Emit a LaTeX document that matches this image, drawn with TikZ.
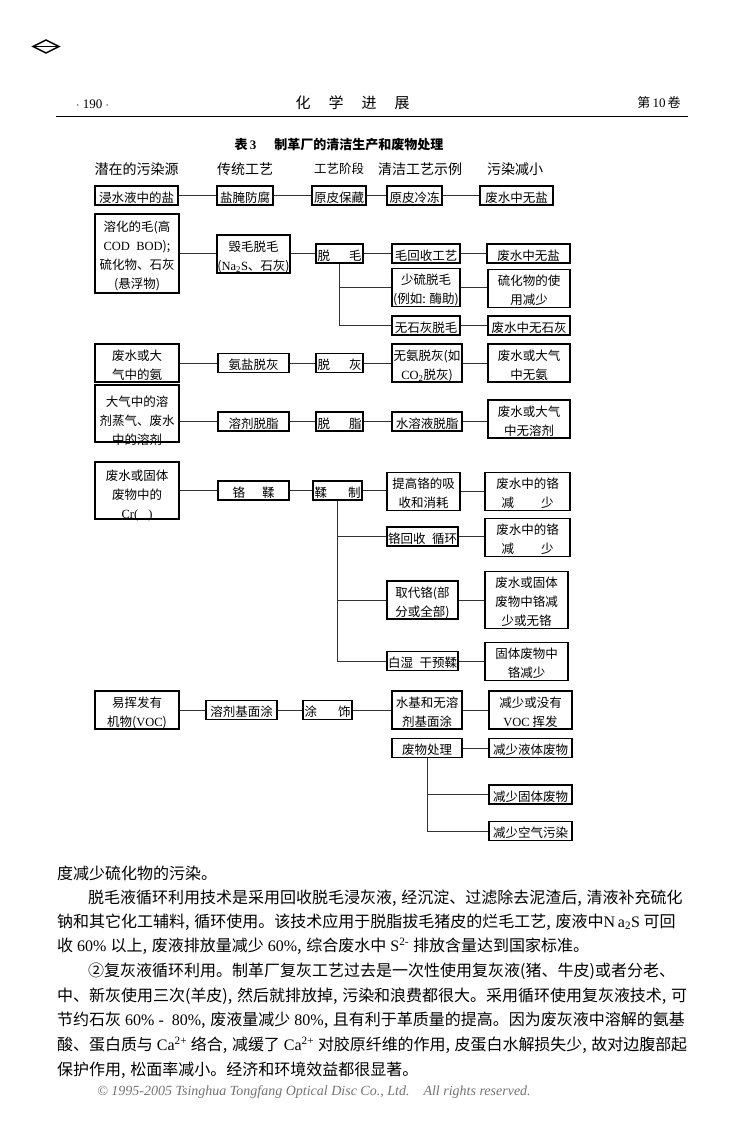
\documentclass[tikz,border=0pt]{standalone}
\usepackage{fontspec}
\setmainfont{Noto Sans CJK SC}
\newfontfamily\lat{Liberation Serif}
\XeTeXlinebreaklocale "zh"
\XeTeXlinebreakskip=0pt plus 3pt minus 1pt
\newcommand\bt[2][3]{\raisebox{-#1pt}[\height][\depth]{\begin{tabular}{@{}c@{}}#2\end{tabular}}}
\newcommand\spread[2]{\makebox[#1pt][s]{#2}}
\newcommand\cm{,\nobreak\hspace{0.3em plus 0.1em minus 0.1em}}
\newcommand\bodyfont{\fontsize{16}{20}\selectfont}
\newcommand\jset{\XeTeXlinebreakpenalty=10000 \tolerance=9999 \parfillskip=0pt \noindent}
\tikzset{
  bx/.style={draw, line width=1.7pt, inner sep=0pt, font=\fontsize{12.5}{19}\selectfont},
  ln/.style={line width=0.8pt, draw=black!80},
  hd/.style={inner sep=0pt, font=\fontsize{14}{16}\selectfont},
  jl/.style={anchor=west, inner sep=0pt, text width=630pt, align=justify, font=\bodyfont},
  nl/.style={anchor=west, inner sep=0pt, font=\bodyfont},
}
\begin{document}
\begin{tikzpicture}[x=1pt,y=-1pt]
\fill[white] (0,0) rectangle (741,1122);
\useasboundingbox (0,0) rectangle (741,1122);

% page header
\draw[line width=1.5pt] (33,46.5) -- (46,40) -- (59,46.5) -- (46,53) -- cycle;
\draw[line width=0.5pt] (35,46.5) -- (57,46.5);
\node[inner sep=0pt, font=\lat\fontsize{13}{15}\selectfont] (pg) at (92.5,104) {$\cdot$ 190 $\cdot$};
\node[inner sep=0pt, font=\fontsize{15}{17}\selectfont] (jr) at (352.5,103) {\spread{114}{化\hfill 学\hfill 进\hfill 展}};
\node[inner sep=0pt, font=\fontsize{13}{15}\selectfont] (vol) at (659,103) {第{\lat\,10\,}卷};
\draw[line width=1pt] (56,116) -- (688,116);

% title and column heads
\node[inner sep=0pt, font=\fontsize{13}{15}\selectfont\bfseries] (title) at (339,145) {表{\lat\bfseries\,3}\hspace{18pt}制革厂的清洁生产和废物处理};
\node[hd] (h1) at (136.5,169) {潜在的污染源};
\node[hd] (h2) at (245,169) {传统工艺};
\node[hd, font=\fontsize{12.5}{15}\selectfont] (h3) at (339,169) {工艺阶段};
\node[hd] (h4) at (420,169) {清洁工艺示例};
\node[hd] (h5) at (515,169) {污染减小};

% row 1
\node[bx, minimum width=83, minimum height=17] (a1) at (136.5,195.5) {\bt{浸水液中的盐}};
\node[bx, minimum width=56, minimum height=17] (b1) at (245,195.5) {\bt{盐腌防腐}};
\node[bx, minimum width=54, minimum height=17] (c1) at (339,195.5) {\bt{原皮保藏}};
\node[bx, minimum width=55, minimum height=17] (d1) at (414.5,195.5) {\bt{原皮冷冻}};
\node[bx, minimum width=73, minimum height=17] (e1) at (516.5,195.5) {\bt{废水中无盐}};
\draw[ln] (a1.east) -- (b1.west);
\draw[ln] (b1.east) -- (c1.west);
\draw[ln] (c1.east) -- (d1.west);
\draw[ln] (d1.east) -- (e1.west);

% row 2 : unhairing
\node[bx, minimum width=84, minimum height=79] (a2) at (137,253.5) {\bt{溶化的毛(高\\{\lat COD\ \ BOD});\\硫化物、石灰\\(悬浮物)}};
\node[bx, minimum width=71, minimum height=38] (b2) at (253.5,254) {\bt{毁毛脱毛\\({\lat Na\textsubscript{2}S}、石灰)}};
\node[bx, minimum width=47, minimum height=15] (c2) at (339.5,253.5) {\bt{\spread{44}{脱\hfill 毛}}};
\node[bx, minimum width=68, minimum height=15] (d2) at (426,253.5) {\bt{毛回收工艺}};
\node[bx, minimum width=83, minimum height=15] (e2) at (528.5,253.5) {\bt{废水中无盐}};
\node[bx, minimum width=68, minimum height=35] (d3) at (426,287.5) {\bt{少硫脱毛\\(例如: 酶助)}};
\node[bx, minimum width=82, minimum height=37] (e3) at (529,288.5) {\bt{硫化物的使\\用减少}};
\node[bx, minimum width=68, minimum height=15] (d4) at (426,325.5) {\bt{无石灰脱毛}};
\node[bx, minimum width=82, minimum height=15] (e4) at (529,325.5) {\bt{废水中无石灰}};
\draw[ln] (a2.east) -- (a2.east -| b2.west);
\draw[ln] (b2.east |- c2) -- (c2.west);
\draw[ln] (c2.east) -- (d2.west);
\draw[ln] (d2.east) -- (e2.west);
\draw[ln] (c2.south) |- (d3.west);
\draw[ln] (c2.south) |- (d4.west);
\draw[ln] (d3.east) -- (d3.east -| e3.west);
\draw[ln] (d4.east) -- (e4.west);

% row 3 : deliming
\node[bx, minimum width=84, minimum height=38] (a5) at (137,363) {\bt{废水或大\\气中的氨}};
\node[bx, minimum width=71, minimum height=15] (b5) at (253.5,363) {\bt{氨盐脱灰}};
\node[bx, minimum width=47, minimum height=15] (c5) at (339.5,363) {\bt{\spread{44}{脱\hfill 灰}}};
\node[bx, minimum width=70, minimum height=38] (d5) at (427,363) {\bt{无氨脱灰(如\\{\lat CO\textsubscript{2}}脱灰)}};
\node[bx, minimum width=82, minimum height=38] (e5) at (529,363) {\bt{废水或大气\\中无氨}};
\draw[ln] (a5.east) -- (b5.west);
\draw[ln] (b5.east) -- (c5.west);
\draw[ln] (c5.east) -- (d5.west);
\draw[ln] (d5.east) -- (e5.west);

% row 4 : degreasing
\node[bx, minimum width=84, minimum height=39] (a6) at (137,413.5) {\bt[8]{大气中的溶\\剂蒸气、废水\\中的溶剂}};
\node[bx, minimum width=71, minimum height=15] (b6) at (253.5,421.5) {\bt{溶剂脱脂}};
\node[bx, minimum width=47, minimum height=15] (c6) at (339.5,421.5) {\bt{\spread{44}{脱\hfill 脂}}};
\node[bx, minimum width=70, minimum height=15] (d6) at (427,421.5) {\bt{水溶液脱脂}};
\node[bx, minimum width=82, minimum height=32] (e6) at (529,419) {\bt{废水或大气\\中无溶剂}};
\draw[ln] (a6.east |- b6) -- (b6.west);
\draw[ln] (b6.east) -- (c6.west);
\draw[ln] (c6.east) -- (d6.west);
\draw[ln] (d6.east) -- (d6.east -| e6.west);

% row 5 : tanning
\node[bx, minimum width=84, minimum height=57] (a7) at (137,490.5) {\bt[5]{废水或固体\\废物中的\\{\lat Cr(\hspace{10pt})}}};
\node[bx, minimum width=71, minimum height=15] (b7) at (253.5,490.5) {\bt{\spread{42}{铬\hfill 鞣}}};
\node[bx, minimum width=49, minimum height=15] (c7) at (337.5,490.5) {\bt{\spread{46}{鞣\hfill 制}}};
\node[bx, minimum width=73, minimum height=37] (d7) at (423.5,491.5) {\bt{提高铬的吸\\收和消耗}};
\node[bx, minimum width=85, minimum height=37] (e7) at (527.5,491.5) {\bt{废水中的铬\\\spread{52}{减\hfill 少}}};
\node[bx, minimum width=71, minimum height=14] (d8) at (422.5,536.5) {\bt{\spread{69}{铬回收\hfill 循环}}};
\node[bx, minimum width=85, minimum height=35] (e8) at (527.5,537.5) {\bt{废水中的铬\\\spread{52}{减\hfill 少}}};
\node[bx, minimum width=71, minimum height=36] (d9) at (422.5,600) {\bt{取代铬(部\\分或全部)}};
\node[bx, minimum width=83, minimum height=56] (e9) at (526.5,600) {\bt{废水或固体\\废物中铬减\\少或无铬}};
\node[bx, minimum width=71, minimum height=16] (d10) at (422.5,661) {\bt{\spread{69}{白湿\hfill 干预鞣}}};
\node[bx, minimum width=83, minimum height=37] (e10) at (526.5,661.5) {\bt{固体废物中\\铬减少}};
\draw[ln] (a7.east) -- (b7.west);
\draw[ln] (b7.east) -- (c7.west);
\draw[ln] (c7.east) -- (c7.east -| d7.west);
\draw[ln] (d7.east) -- (e7.west);
\draw[ln] (c7.south) |- (d8.west);
\draw[ln] (c7.south) |- (d9.west);
\draw[ln] (c7.south) |- (d10.west);
\draw[ln] (d8.east) -- (d8.east -| e8.west);
\draw[ln] (d9.east) -- (e9.west);
\draw[ln] (d10.east) -- (d10.east -| e10.west);

% row 6 : finishing and waste treatment
\node[bx, minimum width=84, minimum height=38] (a11) at (137,710) {\bt{易挥发有\\机物({\lat VOC})}};
\node[bx, minimum width=71, minimum height=16] (b11) at (241.5,710) {\bt{溶剂基面涂}};
\node[bx, minimum width=49, minimum height=16] (c11) at (327.5,710) {\bt{\spread{46}{涂\hfill 饰}}};
\node[bx, minimum width=70, minimum height=38] (d11) at (427,710) {\bt{水基和无溶\\剂基面涂}};
\node[bx, minimum width=83, minimum height=38] (e11) at (530.5,710) {\bt{减少或没有\\{\lat VOC} 挥发}};
\node[bx, minimum width=70, minimum height=16] (d12) at (427,748) {\bt{废物处理}};
\node[bx, minimum width=83, minimum height=16] (e12) at (530.5,748) {\bt{减少液体废物}};
\node[bx, minimum width=83, minimum height=15] (e13) at (530.5,794.5) {\bt{减少固体废物}};
\node[bx, minimum width=83, minimum height=16] (e14) at (530.5,831) {\bt{减少空气污染}};
\draw[ln] (a11.east) -- (b11.west);
\draw[ln] (b11.east) -- (c11.west);
\draw[ln] (c11.east) -- (d11.west);
\draw[ln] (d11.east) -- (e11.west);
\draw[ln] (d12.east) -- (e12.west);
\draw[ln] (d12.south) |- (e13.west);
\draw[ln] (d12.south) |- (e14.west);

% body text
\node[nl] (t1) at (57,873) {度减少硫化物的污染。};
\node[jl] (t2) at (57,898) {\jset\hspace*{31pt}脱毛液循环利用技术是采用回收脱毛浸灰液\cm 经沉淀、过滤除去泥渣后\cm 清液补充硫化};
\node[jl] (t3) at (57,922) {\jset 钠和其它化工辅料\cm 循环使用。该技术应用于脱脂拔毛猪皮的烂毛工艺\cm 废液中{\lat N\,a\textsubscript{2}S}\nobreak\ 可回};
\node[nl] (t4) at (57,946) {收{\lat\ 60\%\ }以上\cm 废液排放量减少{\lat\ 60\%}\cm 综合废水中{\lat\ S\textsuperscript{2-}\ }排放含量达到国家标准。};
\node[jl] (t5) at (57,971) {\jset\hspace*{31pt}②复灰液循环利用。制革厂复灰工艺过去是一次性使用复灰液(猪、牛皮)或者分老、};
\node[jl] (t6) at (57,996) {\jset 中、新灰使用三次(羊皮)\cm 然后就排放掉\cm 污染和浪费都很大。采用循环使用复灰液技术\cm 可};
\node[jl] (t7) at (57,1020) {\jset 节约石灰{\lat\nobreak\ 60\%\nobreak\ -\nobreak\ \nobreak\ 80\%}\cm 废液量减少{\lat\nobreak\ 80\%}\cm 且有利于革质量的提高。因为废灰液中溶解的氨基};
\node[jl] (t8) at (57,1045) {\jset 酸、蛋白质与{\lat\nobreak\ Ca\textsuperscript{2+}\nobreak\ }络合\cm 减缓了{\lat\nobreak\ Ca\textsuperscript{2+}\nobreak\ }对胶原纤维的作用\cm 皮蛋白水解损失少\cm 故对边腹部起};
\node[nl] (t9) at (57,1070) {保护作用\cm 松面率减小。经济和环境效益都很显著。};
\node[inner sep=0pt, font=\lat\itshape\fontsize{14}{16}\selectfont, text=black!55] (copy) at (314,1092) {\textcopyright{} 1995-2005 Tsinghua Tongfang Optical Disc Co., Ltd.\quad All rights reserved.};
\end{tikzpicture}
\end{document}
